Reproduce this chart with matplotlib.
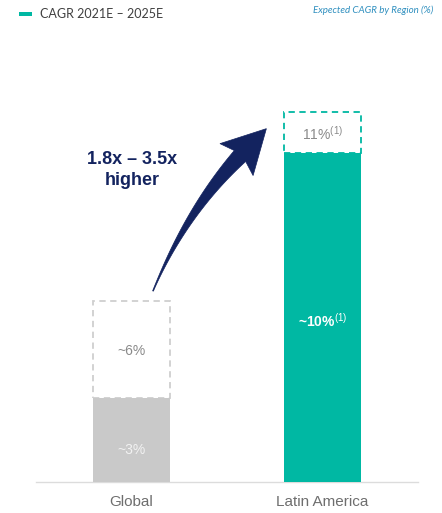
import numpy as np
import matplotlib
matplotlib.use("Agg")
import matplotlib.pyplot as plt
from matplotlib.patches import Polygon, Rectangle

# ---- data ----
categories = ["Global", "Latin America"]
base_heights = [3.0, 11.75]        # solid bar heights (as drawn)
upside_tops = [6.45, 13.2]         # dashed box tops (as drawn)
base_labels = ["~3%", "~10%$^{(1)}$"]
upside_labels = ["~6%", "11%$^{(1)}$"]
legend_label = "CAGR 2021E \u2013 2025E"
title_right = "Expected CAGR by Region (%)"
callout = "1.8x \u2013 3.5x\nhigher"

TEAL = "#00b8a3"
GRAY = "#c9c9c9"
NAVY = "#13235f"

plt.rcParams["font.family"] = ["Liberation Sans", "DejaVu Sans"]
plt.rcParams["mathtext.fontset"] = "custom"
plt.rcParams["mathtext.rm"] = "Liberation Sans"
plt.rcParams["mathtext.it"] = "Liberation Sans:italic"
plt.rcParams["mathtext.bf"] = "Liberation Sans:bold"

W, H = 442, 513
fig = plt.figure(figsize=(W / 100, H / 100), dpi=100)
fig.patch.set_facecolor("white")

# axes: x from 36 to 418 px, y from 482 px (bottom) to 40 px
ax = fig.add_axes([36 / W, (H - 482) / H, (418 - 36) / W, (482 - 40) / H])
ax.set_xlim(-0.5, 1.5)
ax.set_ylim(0, 442 / 28)
for s in ["top", "right", "left"]:
    ax.spines[s].set_visible(False)
ax.spines["bottom"].set_color("#dcdcdc")
ax.spines["bottom"].set_linewidth(1.0)
ax.set_yticks([])
x = np.arange(len(categories))
ax.set_xticks(x)
ax.set_xticklabels(categories, fontsize=11, color="#6e6e6e")
ax.tick_params(axis="x", length=0, pad=9)

bar_colors = [GRAY, TEAL]
edge_colors = ["#cfcfcf", TEAL]
label_colors_up = ["#8a8a8a", "#8a8a8a"]
label_colors_base = ["#f2f2f2", "white"]
base_label_pos = [0.38, 0.49]
width = 0.40

for i in range(len(categories)):
    # dashed upside box
    ax.bar(x[i], upside_tops[i] - base_heights[i], bottom=base_heights[i], width=width,
           facecolor="white", edgecolor=edge_colors[i], linestyle=(0, (3.5, 2.5)),
           linewidth=1.3, zorder=2)
    # solid base
    ax.bar(x[i], base_heights[i], width=width, color=bar_colors[i], zorder=3)
    ax.text(x[i], (base_heights[i] + upside_tops[i]) / 2 - 0.05, upside_labels[i],
            ha="center", va="center", fontsize=10, color=label_colors_up[i], zorder=4)
    ax.text(x[i], base_heights[i] * base_label_pos[i], base_labels[i],
            ha="center", va="center", fontsize=10, color=label_colors_base[i],
            fontweight="bold" if i == 1 else "normal", zorder=4)

# legend (top-left)
fig.patches.append(Rectangle((19 / W, 1 - 16 / H), 13 / W, 4 / H, transform=fig.transFigure,
                             facecolor=TEAL, edgecolor="none"))
fig.text(40 / W, 1 - 14 / H, legend_label, fontsize=9, color="#404040", va="center",
         family=["Lato", "DejaVu Sans"])
fig.text(313 / W, 1 - 10 / H, title_right, fontsize=7, color="#2f8fbf", va="center",
         style="italic", family=["Lato", "DejaVu Sans"])

# callout text
fig.text(132 / W, 1 - 170 / H, callout, fontsize=13, color=NAVY, fontweight="bold",
         ha="center", va="center", linespacing=1.3)

# curved tapered arrow (pixel coordinates, y down)
P0 = np.array([153.0, 291.0])
P1 = np.array([186.0, 212.0])
P2 = np.array([240.0, 156.0])
t = np.linspace(0, 1, 60)
pts = ((1 - t)[:, None] ** 2) * P0 + (2 * (1 - t) * t)[:, None] * P1 + (t[:, None] ** 2) * P2
der = (2 * (1 - t))[:, None] * (P1 - P0) + (2 * t)[:, None] * (P2 - P1)
der /= np.linalg.norm(der, axis=1)[:, None]
nrm = np.stack([-der[:, 1], der[:, 0]], axis=1)
wid = 0.4 + 7.5 * t ** 1.3
side_a = pts + nrm * wid[:, None]
side_b = pts - nrm * wid[:, None]
d = der[-1]
n = nrm[-1]
B = P2
tip = B + d * 38
corner_a = B + n * 23 - d * 5
corner_b = B - n * 23 - d * 5
poly = np.vstack([side_a, corner_a, tip, corner_b, side_b[::-1]])
poly_fig = np.column_stack([poly[:, 0] / W, 1 - poly[:, 1] / H])
fig.patches.append(Polygon(poly_fig, closed=True, transform=fig.transFigure,
                           facecolor=NAVY, edgecolor=NAVY, linewidth=0.5))

fig.savefig("out.png", dpi=100, facecolor="white")
